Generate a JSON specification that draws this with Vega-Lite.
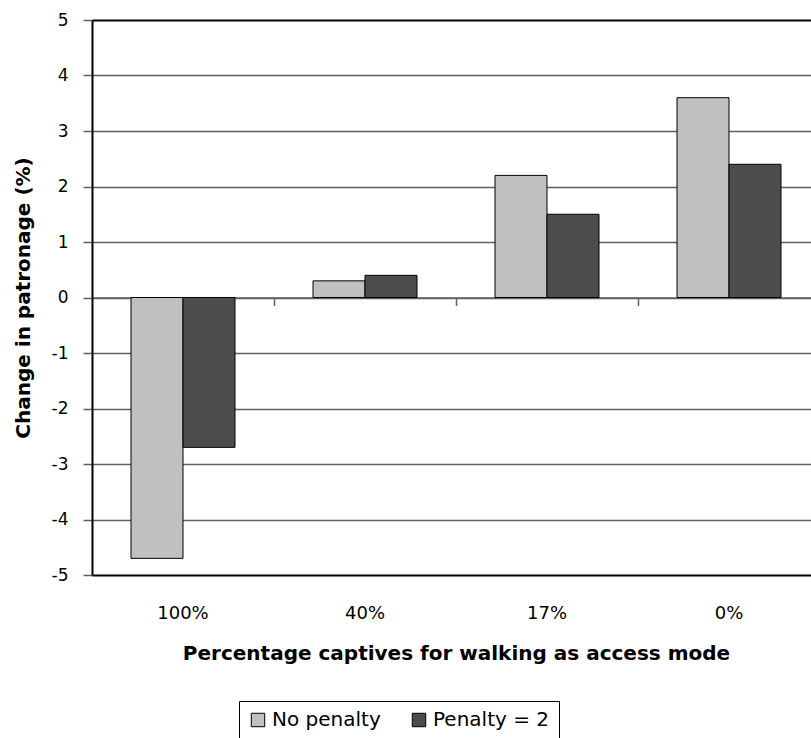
{
  "$schema": "https://vega.github.io/schema/vega-lite/v6.json",
  "width": 719,
  "height": 555,
  "autosize": {"type": "none"},
  "padding": {"left": 92, "top": 20, "right": 0, "bottom": 163},
  "config": {"view": {"stroke": null}, "font": "DejaVu Sans", "background": "white"},
  "data": {
    "values": [
      {"captive": "100%", "scenario": "No penalty", "change": -4.7},
      {"captive": "100%", "scenario": "Penalty = 2", "change": -2.7},
      {"captive": "40%", "scenario": "No penalty", "change": 0.3},
      {"captive": "40%", "scenario": "Penalty = 2", "change": 0.4},
      {"captive": "17%", "scenario": "No penalty", "change": 2.2},
      {"captive": "17%", "scenario": "Penalty = 2", "change": 1.5},
      {"captive": "0%", "scenario": "No penalty", "change": 3.6},
      {"captive": "0%", "scenario": "Penalty = 2", "change": 2.4}
    ]
  },
  "encoding": {
    "y": {
      "field": "change",
      "type": "quantitative",
      "scale": {"domain": [-5, 5], "nice": false, "zero": false},
      "axis": {
        "title": "Change in patronage (%)",
        "titleFontSize": 20,
        "titleFontWeight": "bold",
        "titleColor": "black",
        "titlePadding": 18,
        "values": [-5, -4, -3, -2, -1, 0, 1, 2, 3, 4, 5],
        "labelExpr": "'' + datum.value",
        "labelFontSize": 17,
        "labelColor": "black",
        "labelPadding": 15,
        "tickSize": 9,
        "tickColor": "#606060",
        "tickWidth": 1.5,
        "domainColor": "black",
        "domainWidth": 2,
        "grid": true,
        "gridColor": {"condition": {"test": "datum.value === 5 || datum.value === -5", "value": "black"}, "value": "#606060"},
        "gridWidth": {"condition": {"test": "datum.value === 5 || datum.value === -5", "value": 2}, "value": 1.5},
        "gridOpacity": 1
      }
    }
  },
  "layer": [
    {
      "mark": {"type": "bar", "stroke": "black", "strokeWidth": 1},
      "encoding": {
        "x": {
          "field": "captive",
          "type": "nominal",
          "sort": ["100%", "40%", "17%", "0%"],
          "scale": {"range": [0, 728], "paddingInner": 0.4286, "paddingOuter": 0.2143},
          "axis": {
            "orient": "bottom",
            "title": "Percentage captives for walking as access mode",
            "titleFontSize": 20,
            "titleFontWeight": "bold",
            "titleColor": "black",
            "titlePadding": 21,
            "labelAngle": 0,
            "labelFontSize": 18,
            "labelColor": "black",
            "labelPadding": 29,
            "ticks": false,
            "tickSize": 0,
            "domain": false,
            "grid": false
          }
        },
        "xOffset": {"field": "scenario", "type": "nominal", "sort": ["No penalty", "Penalty = 2"], "scale": {"paddingInner": 0, "paddingOuter": 0}},
        "color": {
          "field": "scenario",
          "type": "nominal",
          "sort": ["No penalty", "Penalty = 2"],
          "scale": {"domain": ["No penalty", "Penalty = 2"], "range": ["#c0c0c0", "#4d4d4d"]},
          "legend": {
            "title": null,
            "orient": "none",
            "legendX": 147,
            "legendY": 681,
            "direction": "horizontal",
            "strokeColor": "black",
            "padding": 9,
            "symbolType": "square",
            "symbolSize": 180,
            "symbolStrokeColor": "black",
            "symbolStrokeWidth": 1,
            "symbolOpacity": 1,
            "labelFontSize": 20,
            "labelColor": "black",
            "labelOffset": 4,
            "columnPadding": 28
          }
        }
      }
    },
    {
      "mark": {"type": "bar", "opacity": 0},
      "encoding": {
        "x": {
          "field": "captive",
          "type": "nominal",
          "sort": ["100%", "40%", "17%", "0%"],
          "axis": {
            "orient": "bottom",
            "offset": -277.5,
            "title": null,
            "labels": false,
            "ticks": true,
            "tickOffset": 91,
            "tickSize": 8,
            "tickColor": "#606060",
            "tickWidth": 1.5,
            "domain": true,
            "domainColor": "#606060",
            "domainWidth": 1.5,
            "grid": false
          }
        }
      }
    }
  ],
  "resolve": {"axis": {"x": "independent"}}
}
